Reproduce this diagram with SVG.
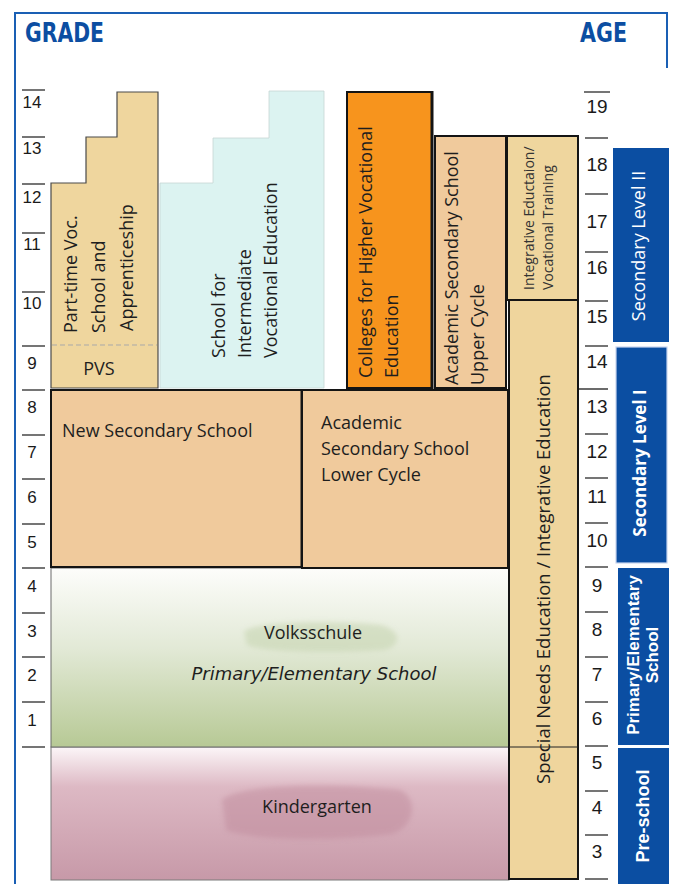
<svg xmlns="http://www.w3.org/2000/svg" width="673" height="884" viewBox="0 0 673 884">
  <defs>
    <style>
      .lbl { font-family: "Open Sans", "Noto Sans", sans-serif; font-size: 18px; fill: #1e1e1e; }
      .small { font-size: 14px; fill: #333333; }
      .num { font-family: "Liberation Sans", Arial, sans-serif; fill: #1a1a1a; text-anchor: middle; }
      .g { font-size: 17px; }
      .a { font-size: 19px; }
      .tick { stroke: #3a3a3a; stroke-width: 1.4; }
      .head { font-family: "Liberation Sans Narrow", "DejaVu Sans Condensed", "Liberation Sans", sans-serif; font-weight: bold; font-size: 26px; fill: #0c4ea2; }
      .box { stroke: #141414; stroke-width: 2; }
      .band { fill: #0b4ea2; }
      .bandtxt { fill: #ffffff; text-anchor: middle; }
      .arialb { font-family: "Liberation Sans", Arial, sans-serif; font-weight: bold; }
    </style>
    <linearGradient id="gradPrimary" x1="0" y1="0" x2="0" y2="1">
      <stop offset="0" stop-color="#fdfdfb"/>
      <stop offset="0.45" stop-color="#e2e9d6"/>
      <stop offset="1" stop-color="#b7c995"/>
    </linearGradient>
    <linearGradient id="gradKinder" x1="0" y1="0" x2="0" y2="1">
      <stop offset="0" stop-color="#fcf6f8"/>
      <stop offset="0.3" stop-color="#ddb9c4"/>
      <stop offset="1" stop-color="#c799a8"/>
    </linearGradient>
    <filter id="soft" x="-20%" y="-50%" width="140%" height="200%">
      <feGaussianBlur stdDeviation="2.5"/>
    </filter>
  </defs>

  <rect width="673" height="884" fill="#ffffff"/>

  <!-- outer frame -->
  <path d="M15,884 V13 H667 V68" fill="none" stroke="#1a5fb4" stroke-width="2"/>

  <!-- column headings -->
  <text class="head" x="25" y="42" textLength="79" lengthAdjust="spacingAndGlyphs">GRADE</text>
  <text class="head" x="580" y="42" textLength="47" lengthAdjust="spacingAndGlyphs">AGE</text>

  <!-- grade scale -->
  <g id="grade-scale">
    <g class="tick">
      <line x1="22" y1="90" x2="45" y2="90"/>
      <line x1="22" y1="137" x2="45" y2="137"/>
      <line x1="22" y1="184" x2="45" y2="184"/>
      <line x1="22" y1="233" x2="45" y2="233"/>
      <line x1="22" y1="292" x2="45" y2="292"/>
      <line x1="22" y1="346" x2="45" y2="346"/>
      <line x1="22" y1="390" x2="45" y2="390"/>
      <line x1="22" y1="435" x2="45" y2="435"/>
      <line x1="22" y1="479" x2="45" y2="479"/>
      <line x1="22" y1="524" x2="45" y2="524"/>
      <line x1="22" y1="568" x2="45" y2="568"/>
      <line x1="22" y1="613" x2="45" y2="613"/>
      <line x1="22" y1="657" x2="45" y2="657"/>
      <line x1="22" y1="702" x2="45" y2="702"/>
      <line x1="22" y1="747" x2="45" y2="747"/>
    </g>
    <text class="num g" x="32" y="108">14</text>
    <text class="num g" x="32" y="154">13</text>
    <text class="num g" x="32" y="203">12</text>
    <text class="num g" x="32" y="250">11</text>
    <text class="num g" x="32" y="309">10</text>
    <text class="num g" x="32" y="369">9</text>
    <text class="num g" x="32" y="413">8</text>
    <text class="num g" x="32" y="458">7</text>
    <text class="num g" x="32" y="503">6</text>
    <text class="num g" x="32" y="548">5</text>
    <text class="num g" x="32" y="592">4</text>
    <text class="num g" x="32" y="637">3</text>
    <text class="num g" x="32" y="681">2</text>
    <text class="num g" x="32" y="726">1</text>
  </g>

  <!-- age scale -->
  <g id="age-scale">
    <g class="tick">
      <line x1="584" y1="92" x2="610" y2="92"/>
      <line x1="585" y1="138" x2="608" y2="138"/>
      <line x1="585" y1="194" x2="608" y2="194"/>
      <line x1="585" y1="252" x2="608" y2="252"/>
      <line x1="585" y1="301" x2="608" y2="301"/>
      <line x1="585" y1="346" x2="608" y2="346"/>
      <line x1="573" y1="389" x2="608" y2="389"/>
      <line x1="585" y1="434" x2="608" y2="434"/>
      <line x1="585" y1="478" x2="608" y2="478"/>
      <line x1="585" y1="523" x2="608" y2="523"/>
      <line x1="585" y1="567" x2="608" y2="567"/>
      <line x1="585" y1="612" x2="608" y2="612"/>
      <line x1="585" y1="657" x2="608" y2="657"/>
      <line x1="585" y1="702" x2="608" y2="702"/>
      <line x1="585" y1="746" x2="608" y2="746"/>
      <line x1="585" y1="791" x2="608" y2="791"/>
      <line x1="585" y1="835" x2="608" y2="835"/>
      <line x1="585" y1="879" x2="608" y2="879"/>
    </g>
    <text class="num a" x="597" y="113">19</text>
    <text class="num a" x="597" y="171">18</text>
    <text class="num a" x="597" y="228">17</text>
    <text class="num a" x="597" y="274">16</text>
    <text class="num a" x="597" y="323">15</text>
    <text class="num a" x="597" y="368">14</text>
    <text class="num a" x="597" y="413">13</text>
    <text class="num a" x="597" y="458">12</text>
    <text class="num a" x="597" y="503">11</text>
    <text class="num a" x="597" y="547">10</text>
    <text class="num a" x="597" y="592">9</text>
    <text class="num a" x="597" y="636">8</text>
    <text class="num a" x="597" y="681">7</text>
    <text class="num a" x="597" y="725">6</text>
    <text class="num a" x="597" y="769">5</text>
    <text class="num a" x="597" y="814">4</text>
    <text class="num a" x="597" y="858">3</text>
  </g>

  <!-- level bands on the right -->
  <g id="band-secondary-2">
    <rect class="band" x="613" y="148" width="56" height="194"/>
    <text class="lbl bandtxt" transform="translate(645,246) rotate(-90)">Secondary Level II</text>
  </g>
  <g id="band-secondary-1">
    <rect class="band" x="616" y="347" width="51" height="216" stroke="#c9d5ef" stroke-width="1.2"/>
    <text class="lbl bandtxt" style="font-weight:bold;font-size:17px" transform="translate(646,463) rotate(-90)">Secondary Level I</text>
  </g>
  <g id="band-primary">
    <rect class="band" x="618" y="568" width="51" height="177"/>
    <text class="bandtxt arialb" style="font-size:17px" transform="translate(639,655) rotate(-90)">Primary/Elementary</text>
    <text class="bandtxt arialb" style="font-size:17px" transform="translate(658,655) rotate(-90)">School</text>
  </g>
  <g id="band-preschool">
    <rect class="band" x="618" y="748" width="51" height="136"/>
    <text class="bandtxt arialb" style="font-size:18px" transform="translate(649,816) rotate(-90)">Pre-school</text>
  </g>

  <!-- kindergarten -->
  <g id="kindergarten">
    <rect x="51" y="747" width="458" height="133" fill="url(#gradKinder)" stroke="#7a7a7a" stroke-width="1"/>
    <path d="M222,800 C240,784 330,783 400,790 C418,798 416,826 392,834 C330,842 250,840 226,830 Z" fill="#c08b9c" opacity="0.5" filter="url(#soft)"/>
    <text class="lbl" x="317" y="813" text-anchor="middle">Kindergarten</text>
  </g>

  <!-- primary school -->
  <g id="volksschule">
    <rect x="51" y="568" width="458" height="179" fill="url(#gradPrimary)" stroke="#6a6a6a" stroke-width="1"/>
    <path d="M244,632 C250,622 330,620 380,625 C402,630 402,646 384,650 C330,654 262,652 247,645 Z" fill="#c8d6b3" opacity="0.6" filter="url(#soft)"/>
    <text class="lbl" x="313" y="639" text-anchor="middle">Volksschule</text>
    <text class="lbl" x="314" y="680" text-anchor="middle" style="font-style:italic;font-family:'DejaVu Sans',sans-serif;font-size:17px" textLength="245" lengthAdjust="spacingAndGlyphs">Primary/Elementary School</text>
  </g>

  <!-- lower secondary -->
  <g id="new-secondary">
    <rect class="box" x="51" y="390" width="251" height="177" fill="#f0ca9c"/>
    <line x1="302" y1="389" x2="302" y2="568" stroke="#141414" stroke-width="3"/>
    <text class="lbl" x="62" y="437">New Secondary School</text>
  </g>
  <g id="academic-lower">
    <rect class="box" x="302" y="390" width="206" height="178" fill="#f0ca9c"/>
    <text class="lbl" x="321" y="429">Academic</text>
    <text class="lbl" x="321" y="455">Secondary School</text>
    <text class="lbl" x="321" y="481">Lower Cycle</text>
  </g>

  <!-- upper secondary -->
  <g id="part-time-voc">
    <path d="M51,388 V183 H86 V137 H117 V92 H158 V388 Z" fill="#efd69e" stroke="#4a4a4a" stroke-width="1.2"/>
    <line x1="52" y1="345" x2="157" y2="345" stroke="#a9a9a9" stroke-width="1" stroke-dasharray="5,3"/>
    <text class="lbl" transform="translate(77,333) rotate(-90)">Part-time Voc.</text>
    <text class="lbl" transform="translate(105,333) rotate(-90)">School and</text>
    <text class="lbl" transform="translate(133,331) rotate(-90)">Apprenticeship</text>
    <text class="lbl" x="99" y="375" text-anchor="middle">PVS</text>
  </g>
  <g id="intermediate-voc">
    <path d="M160,388 V183 H213 V138 H269 V91 H324 V388 Z" fill="#dcf3f1" stroke="#c7d6d4" stroke-width="0.8"/>
    <text class="lbl" transform="translate(225,358) rotate(-90)">School for</text>
    <text class="lbl" transform="translate(251,358) rotate(-90)">Intermediate</text>
    <text class="lbl" transform="translate(277,358) rotate(-90)">Vocational Education</text>
  </g>
  <g id="higher-voc">
    <rect class="box" x="347" y="92" width="85" height="296" fill="#f7941d"/>
    <line x1="432" y1="91" x2="432" y2="389" stroke="#141414" stroke-width="3"/>
    <text class="lbl" transform="translate(372,378) rotate(-90)">Colleges for Higher Vocational</text>
    <text class="lbl" transform="translate(398,378) rotate(-90)">Education</text>
  </g>
  <g id="academic-upper">
    <rect class="box" x="435" y="136" width="71" height="252" fill="#f0ca9c"/>
    <text class="lbl" transform="translate(458,385) rotate(-90)">Academic Secondary School</text>
    <text class="lbl" transform="translate(484,385) rotate(-90)">Upper Cycle</text>
  </g>
  <g id="integrative-training">
    <rect class="box" x="507" y="136" width="71" height="164" fill="#efd69e" stroke-width="1.8"/>
    <text class="lbl small" transform="translate(534,290) rotate(-90)">Integrative Eductaion/</text>
    <text class="lbl small" transform="translate(553,290) rotate(-90)">Vocational Training</text>
  </g>
  <g id="special-needs">
    <rect class="box" x="509" y="300" width="69" height="579" fill="#efd59d"/>
    <line x1="509" y1="747" x2="578" y2="747" stroke="#222" stroke-width="1"/>
    <text class="lbl" style="font-size:18.5px" transform="translate(550,784) rotate(-90)">Special Needs Education / Integrative Education</text>
  </g>
</svg>
